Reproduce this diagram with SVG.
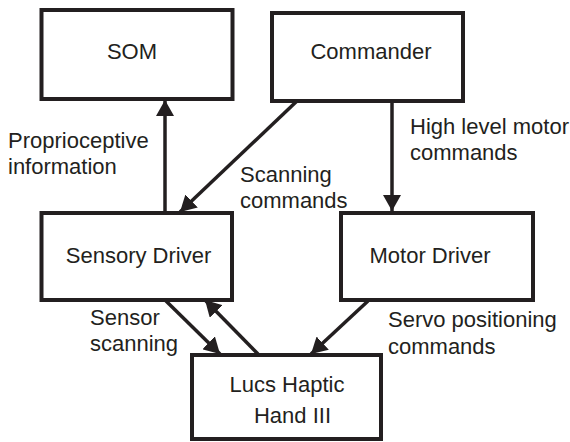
<svg xmlns="http://www.w3.org/2000/svg" width="570" height="442" viewBox="0 0 570 442">
<style>
.box{fill:#fff;stroke:#231f20;stroke-width:4}
.t{font-family:"Liberation Sans",Arial,sans-serif;font-size:22px;fill:#231f20}
.c{text-anchor:middle}
.ln{stroke:#231f20;stroke-width:3.5;fill:none;marker-end:url(#ah)}
</style>
<defs>
<marker id="ah" markerUnits="userSpaceOnUse" viewBox="0 0 16 18" refX="16" refY="9" markerWidth="16" markerHeight="18" orient="auto">
<path d="M0,0 L16,9 L0,18 Z" fill="#231f20"/>
</marker>
</defs>
<rect width="570" height="442" fill="#fff"/>
<g id="connectors">
<line class="ln" x1="165" y1="213" x2="165" y2="100"/>
<line class="ln" x1="297" y1="101" x2="180" y2="212"/>
<line class="ln" x1="392" y1="101" x2="392" y2="211"/>
<line class="ln" x1="165" y1="300" x2="220" y2="354"/>
<line class="ln" x1="258" y1="354" x2="205" y2="300"/>
<line class="ln" x1="368" y1="301" x2="311" y2="354"/>
</g>
<g id="som">
<rect class="box" x="41.5" y="10" width="191" height="89"/>
<text class="t c" x="132" y="59">SOM</text>
</g>
<g id="commander">
<rect class="box" x="272" y="13" width="191" height="88"/>
<text class="t c" x="371" y="59">Commander</text>
</g>
<g id="sensory">
<rect class="box" x="41.5" y="213" width="190.5" height="87"/>
<text class="t c" x="138.5" y="263">Sensory Driver</text>
</g>
<g id="motor">
<rect class="box" x="341" y="213" width="192" height="87"/>
<text class="t c" x="430" y="263">Motor Driver</text>
</g>
<g id="lucs">
<rect class="box" x="192" y="355" width="189" height="84"/>
<text class="t c" x="287" y="392">Lucs Haptic</text>
<text class="t c" x="292.5" y="423">Hand III</text>
</g>
<g id="labels">
<text class="t" x="8" y="148">Proprioceptive</text>
<text class="t" x="8" y="174">information</text>
<text class="t" x="240" y="182">Scanning</text>
<text class="t" x="240" y="208">commands</text>
<text class="t" x="410" y="134">High level motor</text>
<text class="t" x="410" y="160">commands</text>
<text class="t" x="90" y="325">Sensor</text>
<text class="t" x="90" y="351">scanning</text>
<text class="t" x="388" y="327">Servo positioning</text>
<text class="t" x="388" y="354">commands</text>
</g>
</svg>
